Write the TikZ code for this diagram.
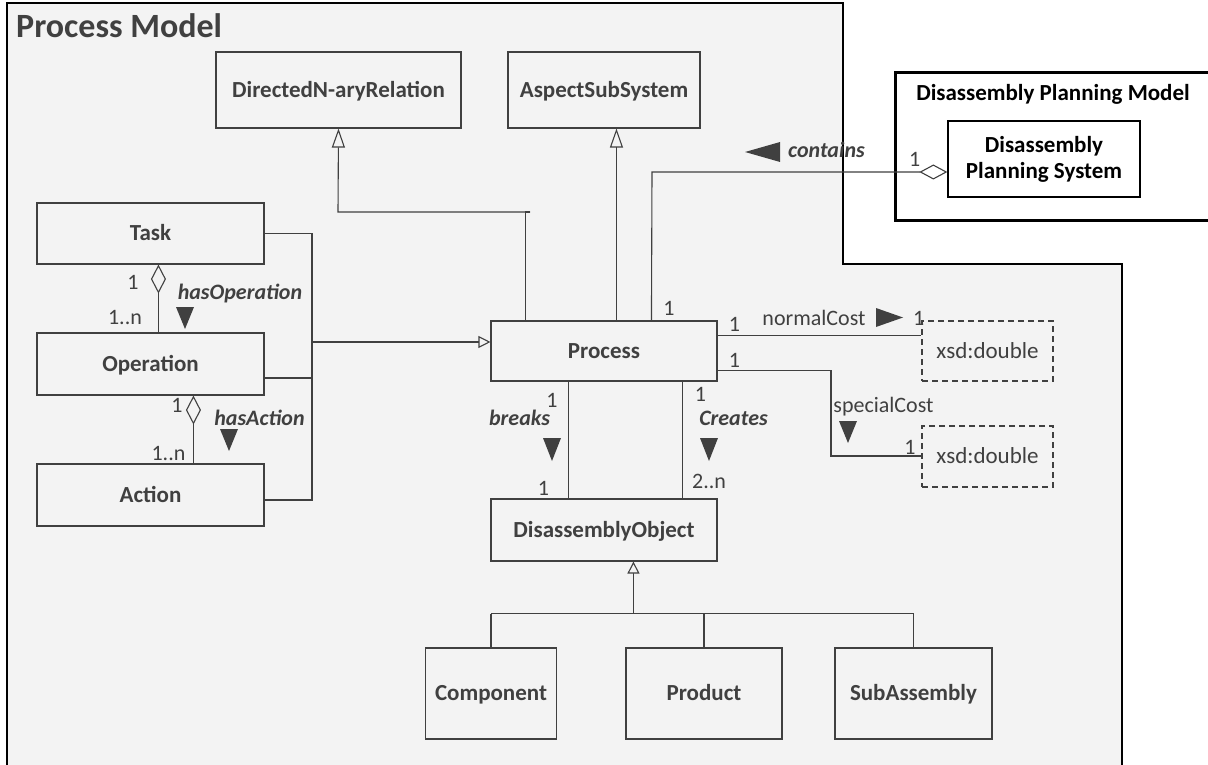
\documentclass[tikz,border=0pt]{standalone}
\usepackage{fontspec}
\setmainfont{Carlito}
\usetikzlibrary{arrows.meta,calc}
\definecolor{ln}{HTML}{404040}
\definecolor{bg}{HTML}{F3F3F3}
\begin{document}
\begin{tikzpicture}[x=1pt,y=-1pt,
 conn/.style={draw=ln, line width=1.1pt},
 gen/.style={conn, -{Triangle[open, length=19pt, width=13pt, fill=bg]}},
 gens/.style={conn, -{Triangle[open, length=12pt, width=12pt, fill=bg]}},
 agg/.style={conn, {Diamond[open, length=29pt, width=15pt, fill=bg]}-},
 aggw/.style={conn, {Diamond[open, length=28pt, width=15pt, fill=white]}-},
 cls/.style={draw=ln, line width=1.1pt, fill=bg, text=ln, inner sep=0pt, font=\fontsize{23}{26}\selectfont\bfseries, text height=14.8pt, text depth=0pt},
 dt/.style={draw=ln, line width=1.1pt, dash pattern=on 6pt off 4pt, fill=bg, text=ln, inner sep=0pt, font=\fontsize{23}{26}\selectfont, text height=14.8pt, text depth=0pt},
 lbl/.style={text=ln, inner sep=0pt, anchor=base, font=\fontsize{22}{24}\selectfont},
 rl/.style={text=ln, inner sep=0pt, anchor=base, font=\fontsize{22}{24}\selectfont\bfseries\itshape},
 tri/.style={fill=ln}
 ]
\clip (0,0) rectangle (1208,765);
\fill[white] (0,0) rectangle (1208,765);
% Process Model frame
\draw[black, line width=2pt, fill=bg] (7,3) -- (843,3) -- (843,264) -- (1122,264) -- (1122,790) -- (7,790) -- cycle;
\node[text=ln, inner sep=0pt, anchor=base west, font=\fontsize{34}{38}\selectfont\bfseries] (pmtitle) at (16,38) {Process Model};
% Disassembly Planning Model frame
\draw[black, line width=3pt, fill=white] (895,73) rectangle (1240,220);
\node[text=black, inner sep=0pt, anchor=base, font=\fontsize{23}{26}\selectfont\bfseries] (dpmtitle) at (1053,101) {Disassembly Planning Model};
\node[draw=black, line width=1.3pt, fill=white, text=black, inner sep=0pt, align=center,
  minimum width=192pt, minimum height=76pt, font=\fontsize{23}{26}\selectfont\bfseries] (dps) at (1044,159) {Disassembly\\Planning System};
% classes
\node[cls, minimum width=245pt, minimum height=76pt] (dnr) at (338.5,90) {DirectedN-aryRelation};
\node[cls, minimum width=192pt, minimum height=76pt] (ass) at (604,90) {AspectSubSystem};
\node[cls, minimum width=227pt, minimum height=61pt] (task) at (150.5,233.5) {Task};
\node[cls, minimum width=227pt, minimum height=62pt] (op) at (150.5,364) {Operation};
\node[cls, minimum width=227pt, minimum height=62pt] (act) at (150.5,495) {Action};
\node[cls, minimum width=226pt, minimum height=60pt] (proc) at (604,351) {Process};
\node[cls, minimum width=226pt, minimum height=62pt] (dobj) at (604,530) {DisassemblyObject};
\node[cls, minimum width=131pt, minimum height=91pt] (comp) at (491,693.5) {Component};
\node[cls, minimum width=156pt, minimum height=91pt] (prod) at (704,693.5) {Product};
\node[cls, minimum width=157pt, minimum height=91pt] (sub) at (913.5,693.5) {SubAssembly};
\node[dt, minimum width=131pt, minimum height=60pt] (xa) at (987.5,351) {xsd:double};
\node[dt, minimum width=131pt, minimum height=61pt] (xb) at (987.5,456.5) {xsd:double};
% attachment coordinates
\coordinate (pDnr) at ($(proc.north west)+(35,0)$);
\coordinate (pAss) at ($(proc.north west)+(126,0)$);
\coordinate (pCon) at ($(proc.north west)+(161,0)$);
\coordinate (bDnr) at (338,212);
\coordinate (bCon) at (652,172);
\coordinate (tR) at (312,233.5);
\coordinate (oR) at (312,378);
\coordinate (aR) at (312,500);
\coordinate (gX) at (312,342);
\coordinate (tD) at ($(task.south west)+(122,0)$);
\coordinate (oD) at ($(op.south west)+(157,0)$);
\coordinate (pNc) at ($(proc.north east)+(0,15)$);
\coordinate (pSc) at ($(proc.north east)+(0,50)$);
\coordinate (bSc) at (831,456);
\coordinate (pBr) at ($(proc.south west)+(78,0)$);
\coordinate (pCr) at ($(proc.south west)+(192,0)$);
\coordinate (dTri) at ($(dobj.south west)+(143,0)$);
\coordinate (bar) at ($(dTri)+(0,52)$);
% generalizations
\draw[conn] (pDnr) |- ($(bDnr)+(192,0)$);
\draw[gen] ($(bDnr)+(192,0)$) -- (bDnr) -- (dnr.south);
\draw[gen] (pAss) -- (pAss |- ass.south);
\draw[conn] (task.east) -- (tR) -- (aR) -- (aR -| act.east);
\draw[conn] (oR) -- (oR -| op.east);
\draw[gens] (gX) -- (gX -| proc.west);
\draw[gens] (bar) -- (dTri);
\draw[conn] (comp.north |- bar) -- (sub.north |- bar);
\draw[conn] (comp.north |- bar) -- (comp.north);
\draw[conn] (prod.north |- bar) -- (prod.north);
\draw[conn] (sub.north |- bar) -- (sub.north);
% aggregations
\draw[agg] (tD) -- (tD |- op.north);
\draw[agg] (oD) -- (oD |- act.north);
\draw[aggw] (dps.west |- bCon) -- (bCon) -- (pCon);
% associations
\draw[conn] (pNc) -- (pNc -| xa.west);
\draw[conn] (pSc) -| (bSc) -- (bSc -| xb.west);
\draw[conn] (pBr) -- (pBr |- dobj.north);
\draw[conn] (pCr) -- (pCr |- dobj.north);
% direction triangles
\fill[tri] (176,307) -- (194,307) -- (185,329) -- cycle;
\fill[tri] (220,429) -- (238,429) -- (229,451) -- cycle;
\fill[tri] (543,438) -- (561,438) -- (552,461) -- cycle;
\fill[tri] (700,438) -- (718,438) -- (709,461) -- cycle;
\fill[tri] (839,421) -- (857,421) -- (848,443) -- cycle;
\fill[tri] (876,308) -- (876,327) -- (903,317.5) -- cycle;
\fill[tri] (780,142) -- (780,162) -- (745,152) -- cycle;
% role labels
\node[rl] (lHo) at (240,299) {hasOperation};
\node[rl] (lHa) at (259.5,425) {hasAction};
\node[rl] (lBr) at (519.5,425) {breaks};
\node[rl] (lCr) at (733.5,425) {Creates};
\node[rl] (lCo) at (826.5,158) {contains};
\node[lbl] (lNc) at (814,325) {normalCost};
\node[lbl] (lSc) at (883.5,412) {specialCost};
% multiplicities
\node[lbl] (m1) at (133,289) {1};
\node[lbl] (m2) at (125,324) {1..n};
\node[lbl] (m3) at (177,412) {1};
\node[lbl] (m4) at (168.5,460) {1..n};
\node[lbl] (m5) at (669,315) {1};
\node[lbl] (m6) at (734.5,331) {1};
\node[lbl] (m7) at (918.6,325) {1};
\node[lbl] (m8) at (734.5,367) {1};
\node[lbl] (m9) at (910,454) {1};
\node[lbl] (m10) at (552,407) {1};
\node[lbl] (m11) at (543.5,495) {1};
\node[lbl] (m12) at (700.4,401) {1};
\node[lbl] (m13) at (709,488) {2..n};
\node[lbl] (m14) at (914.8,167) {1};
\end{tikzpicture}
\end{document}
